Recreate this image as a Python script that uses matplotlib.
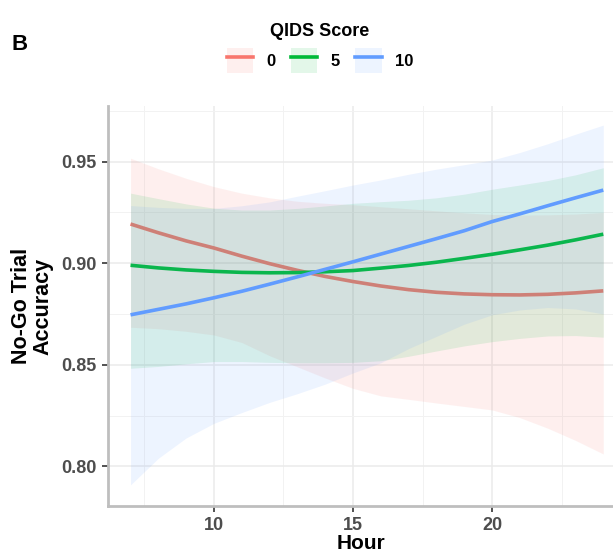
import matplotlib
matplotlib.use("Agg")
import matplotlib.pyplot as plt
from matplotlib.lines import Line2D
from matplotlib.patches import Patch
from matplotlib.ticker import MultipleLocator

plt.rcParams['font.family'] = ['Liberation Sans', 'DejaVu Sans']

hours = [7, 8, 9, 10, 11, 12, 13, 14, 15, 16, 17, 18, 19, 20, 21, 22, 23, 24]

# QIDS = 0
fit_0 = [0.9193, 0.9150, 0.9110, 0.9075, 0.9035, 0.8998, 0.8965, 0.8935, 0.8910,
         0.8888, 0.8870, 0.8857, 0.8849, 0.8845, 0.8844, 0.8847, 0.8854, 0.8864]
hi_0 = [0.9517, 0.9465, 0.9418, 0.9377, 0.9345, 0.9322, 0.9305, 0.9295, 0.9288,
        0.9278, 0.9268, 0.9258, 0.9248, 0.9240, 0.9237, 0.9238, 0.9242, 0.9250]
lo_0 = [0.8685, 0.8678, 0.8665, 0.8647, 0.8610, 0.8545, 0.8490, 0.8435, 0.8384,
        0.8347, 0.8330, 0.8312, 0.8295, 0.8278, 0.8240, 0.8188, 0.8128, 0.8061]

# QIDS = 5
fit_5 = [0.8990, 0.8977, 0.8967, 0.8960, 0.8955, 0.8953, 0.8954, 0.8958, 0.8964,
         0.8976, 0.8989, 0.9005, 0.9024, 0.9044, 0.9066, 0.9089, 0.9115, 0.9143]
hi_5 = [0.9345, 0.9318, 0.9292, 0.9271, 0.9262, 0.9262, 0.9270, 0.9282, 0.9295,
        0.9303, 0.9310, 0.9322, 0.9340, 0.9364, 0.9385, 0.9407, 0.9435, 0.9470]
lo_5 = [0.8483, 0.8492, 0.8505, 0.8516, 0.8516, 0.8512, 0.8510, 0.8510, 0.8512,
        0.8520, 0.8542, 0.8568, 0.8593, 0.8614, 0.8630, 0.8642, 0.8644, 0.8636]

# QIDS = 10
fit_10 = [0.8746, 0.8773, 0.8800, 0.8830, 0.8862, 0.8897, 0.8933, 0.8970, 0.9007,
          0.9045, 0.9083, 0.9121, 0.9160, 0.9205, 0.9243, 0.9283, 0.9322, 0.9360]
hi_10 = [0.9284, 0.9275, 0.9270, 0.9270, 0.9283, 0.9302, 0.9330, 0.9357, 0.9385,
         0.9410, 0.9438, 0.9463, 0.9485, 0.9508, 0.9545, 0.9588, 0.9635, 0.9680]
lo_10 = [0.7909, 0.8040, 0.8140, 0.8212, 0.8265, 0.8315, 0.8358, 0.8405, 0.8460,
         0.8510, 0.8580, 0.8640, 0.8700, 0.8746, 0.8770, 0.8782, 0.8775, 0.8750]

labels = ["0", "5", "10"]
colors = ["#F8766D", "#00BA38", "#619CFF"]
fits = [fit_0, fit_5, fit_10]
his = [hi_0, hi_5, hi_10]
los = [lo_0, lo_5, lo_10]

fig = plt.figure(figsize=(6.13, 5.57), dpi=100)
ax = fig.add_axes([108 / 613, 1 - 506 / 557, 1 - 108 / 613, (506 - 106) / 557])

# ribbon then line per group, like geom_smooth
z = 2
for fit, hi, lo, col in zip(fits, his, los, colors):
    ax.fill_between(hours, lo, hi, color=col, alpha=0.11, linewidth=0, zorder=z)
    ax.plot(hours, fit, color=col, linewidth=2.6, zorder=z + 1, solid_capstyle='butt')
    z += 2

ax.set_xlim(6.19, 24.35)
ax.set_ylim(0.7805, 0.9774)
ax.xaxis.set_minor_locator(MultipleLocator(2.5))
ax.yaxis.set_minor_locator(MultipleLocator(0.025))
ax.set_yticks([0.80, 0.85, 0.90, 0.95])
ax.set_yticklabels(["0.80", "0.85", "0.90", "0.95"])
ax.set_xticks([10, 15, 20])

ax.grid(which='major', color='#EBEBEB', linewidth=1.1, zorder=0)
ax.grid(which='minor', color='#F2F2F2', linewidth=0.7, zorder=0)
ax.set_axisbelow(True)

for s in ['top', 'right']:
    ax.spines[s].set_visible(False)
for s in ['left', 'bottom']:
    ax.spines[s].set_color('#BEBEBE')
    ax.spines[s].set_linewidth(2.0)

ax.tick_params(which='major', length=4, width=1.2, color='#333333',
               labelcolor='#4D4D4D', labelsize=13, pad=4)
ax.tick_params(which='minor', length=0)
for lab in ax.get_xticklabels() + ax.get_yticklabels():
    lab.set_fontweight('bold')

ax.set_xlabel("Hour", fontsize=15, fontweight='bold', labelpad=0)
ax.set_ylabel("No-Go Trial\nAccuracy", fontsize=15.5, fontweight='bold',
              labelpad=6, linespacing=1.0)

fig.text(12 / 613, 1 - 44 / 557, "B", fontsize=16, fontweight='bold', va='center')

handles = [(Patch(facecolor=c, alpha=0.11, edgecolor='none'),
            Line2D([], [], color=c, linewidth=2.6)) for c in colors]
leg = fig.legend(handles, labels, loc='upper center', ncol=3,
                 bbox_to_anchor=(320 / 613, 1 - 8 / 557), frameon=False,
                 title="QIDS Score",
                 title_fontproperties={'weight': 'bold', 'size': 13},
                 prop={'weight': 'bold', 'size': 12},
                 handlelength=1.6, handleheight=1.9, handletextpad=0.8,
                 columnspacing=0.9)

fig.savefig("out.png", dpi=100)
